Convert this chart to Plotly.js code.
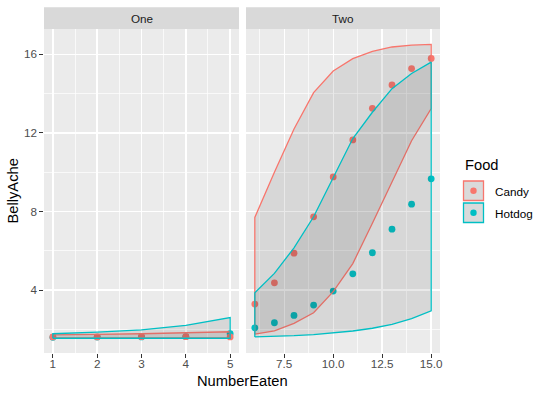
<!DOCTYPE html>
<html>
<head>
<meta charset="utf-8">
<script src="https://cdn.plot.ly/plotly-3.0.1.min.js"></script>
<style>html,body{margin:0;padding:0;background:#fff;}#chart{width:545px;height:395px;}</style>
</head>
<body>
<div id="chart"></div>
<script>
// ---- data ----
const facets = ["One", "Two"];
const foods = ["Candy", "Hotdog"];
const foodColors = ["#F8766D", "#00BFC4"];

const xOne = [1, 2, 3, 4, 5];
const candyOne = [1.62, 1.62, 1.63, 1.63, 1.62];
const hotdogOne = [1.60, 1.61, 1.62, 1.63, 1.78];
const candyOneLo = [1.57, 1.57, 1.57, 1.57, 1.57];
const candyOneHi = [1.72, 1.75, 1.78, 1.82, 1.88];
const hotdogOneLo = [1.55, 1.55, 1.55, 1.55, 1.55];
const hotdogOneHi = [1.78, 1.86, 1.98, 2.20, 2.60];

const xTwo = [6, 7, 8, 9, 10, 11, 12, 13, 14, 15];
const candyTwo = [3.29, 4.37, 5.88, 7.73, 9.76, 11.64, 13.25, 14.44, 15.27, 15.79];
const hotdogTwo = [2.08, 2.34, 2.71, 3.24, 3.95, 4.83, 5.90, 7.10, 8.37, 9.66];
const candyTwoLo = [1.76, 1.93, 2.31, 2.85, 3.92, 5.35, 7.40, 9.50, 11.60, 13.24];
const candyTwoHi = [7.70, 10.00, 12.20, 14.05, 15.15, 15.78, 16.15, 16.37, 16.46, 16.50];
const hotdogTwoLo = [1.62, 1.64, 1.68, 1.74, 1.82, 1.92, 2.06, 2.26, 2.55, 2.95];
const hotdogTwoHi = [3.86, 4.85, 6.15, 7.73, 9.76, 11.71, 13.05, 14.25, 15.02, 15.60];

const yTicks = [4, 8, 12, 16];
const xTwoTicks = [7.5, 10, 12.5, 15];

// ---- helpers ----
const W = 545, H = 395;
const px = v => v / W;
const py = v => 1 - v / H;
const FONT = "Liberation Sans, Arial, Helvetica, sans-serif";

function ribbon(x, lo, hi, color, xa) {
  const xs = x.concat(x.slice().reverse(), [x[0]]);
  const ys = lo.concat(hi.slice().reverse(), [lo[0]]);
  return {
    type: "scatter", mode: "lines", x: xs, y: ys, xaxis: xa, yaxis: xa === "x" ? "y" : "y2",
    fill: "toself", fillcolor: "rgba(51,51,51,0.11)",
    line: {color: color, width: 1.3}, showlegend: false, hoverinfo: "skip"
  };
}
function pts(x, y, color, xa) {
  return {
    type: "scatter", mode: "markers", x: x, y: y, xaxis: xa, yaxis: xa === "x" ? "y" : "y2",
    marker: {color: color, size: 6.8, line: {width: 0}}, showlegend: false
  };
}

const traces = [
  pts(xOne, hotdogOne, foodColors[1], "x"),
  pts(xOne, candyOne, foodColors[0], "x"),
  pts(xTwo, hotdogTwo, foodColors[1], "x2"),
  pts(xTwo, candyTwo, foodColors[0], "x2"),
  ribbon(xOne, candyOneLo, candyOneHi, foodColors[0], "x"),
  ribbon(xOne, hotdogOneLo, hotdogOneHi, foodColors[1], "x"),
  ribbon(xTwo, candyTwoLo, candyTwoHi, foodColors[0], "x2"),
  ribbon(xTwo, hotdogTwoLo, hotdogTwoHi, foodColors[1], "x2")
];

const panelTop = 29.3, panelBot = 353;
const p1 = [44, 239], p2 = [246, 440];
const yDom = [py(panelBot), py(panelTop)];
const tickFont = {family: FONT, size: 11.7, color: "#4D4D4D"};

const axBase = {
  showline: false, zeroline: false, showgrid: true, gridcolor: "#FFFFFF", gridwidth: 1.4,
  ticks: "outside", ticklen: 3.7, tickwidth: 1.07, tickcolor: "#333333",
  tickfont: tickFont, automargin: false, fixedrange: true
};

const layout = {
  width: W, height: H, margin: {l: 0, r: 0, t: 0, b: 0},
  paper_bgcolor: "#FFFFFF", plot_bgcolor: "#EBEBEB",
  showlegend: false, font: {family: FONT},
  xaxis: Object.assign({}, axBase, {
    domain: [px(p1[0]), px(p1[1])], range: [0.8, 5.2], anchor: "y",
    tickvals: xOne, ticktext: xOne.map(String), ticklabelstandoff: -4,
    minor: {dtick: 0.5, tick0: 0, showgrid: true, gridcolor: "#FFFFFF", gridwidth: 0.7, ticks: ""}
  }),
  xaxis2: Object.assign({}, axBase, {
    domain: [px(p2[0]), px(p2[1])], range: [5.55, 15.45], anchor: "y2",
    tickvals: xTwoTicks, ticktext: xTwoTicks.map(v => v.toFixed(1)), ticklabelstandoff: -4,
    minor: {dtick: 1.25, tick0: 0, showgrid: true, gridcolor: "#FFFFFF", gridwidth: 0.7, ticks: ""}
  }),
  yaxis: Object.assign({}, axBase, {
    domain: yDom, range: [0.80, 17.27], anchor: "x",
    tickvals: yTicks, ticktext: yTicks.map(String),
    minor: {dtick: 2, tick0: 0, showgrid: true, gridcolor: "#FFFFFF", gridwidth: 0.7, ticks: ""}
  }),
  yaxis2: Object.assign({}, axBase, {
    domain: yDom, range: [0.80, 17.27], anchor: "x2", matches: "y",
    tickvals: yTicks, showticklabels: false, ticks: "",
    minor: {dtick: 2, tick0: 0, showgrid: true, gridcolor: "#FFFFFF", gridwidth: 0.7, ticks: ""}
  }),
  shapes: [],
  annotations: []
};

// strips
[p1, p2].forEach((p, i) => {
  layout.shapes.push({type: "rect", xref: "paper", yref: "paper",
    x0: px(p[0]), x1: px(p[1]), y0: py(panelTop), y1: py(7.3),
    fillcolor: "#D9D9D9", line: {width: 0}, layer: "below"});
  layout.annotations.push({xref: "paper", yref: "paper", x: px((p[0] + p[1]) / 2), y: py(18.3),
    text: facets[i], showarrow: false, xanchor: "center", yanchor: "middle",
    font: {family: FONT, size: 11.7, color: "#1A1A1A"}});
});

// axis titles
layout.annotations.push({xref: "paper", yref: "paper", x: px(242), y: py(381), text: "NumberEaten",
  showarrow: false, xanchor: "center", yanchor: "middle", font: {family: FONT, size: 14.7, color: "#000"}});
layout.annotations.push({xref: "paper", yref: "paper", x: px(12.5), y: py(191), text: "BellyAche",
  textangle: -90, showarrow: false, xanchor: "center", yanchor: "middle", font: {family: FONT, size: 14.7, color: "#000"}});

// legend (drawn manually, ggplot style)
layout.annotations.push({xref: "paper", yref: "paper", x: px(462.5), y: py(165), text: "Food",
  showarrow: false, xanchor: "left", yanchor: "middle", font: {family: FONT, size: 14.7, color: "#000"}});
const keyY = [[181, 200.5], [203, 222.5]];
foods.forEach((f, i) => {
  const [a, b] = keyY[i];
  layout.shapes.push({type: "rect", xref: "paper", yref: "paper",
    x0: px(463.5), x1: px(483.5), y0: py(b), y1: py(a),
    fillcolor: "#DADADA", line: {color: foodColors[i], width: 1.3}});
  const cx = 473.5, cy = (a + b) / 2, r = 3.2;
  layout.shapes.push({type: "circle", xref: "paper", yref: "paper",
    x0: px(cx - r), x1: px(cx + r), y0: py(cy + r), y1: py(cy - r),
    fillcolor: foodColors[i], line: {width: 0}});
  layout.annotations.push({xref: "paper", yref: "paper", x: px(492.5), y: py(cy + 0.5), text: f,
    showarrow: false, xanchor: "left", yanchor: "middle", font: {family: FONT, size: 11.7, color: "#000"}});
});

Plotly.newPlot("chart", traces, layout, {staticPlot: true, displayModeBar: false});
</script>
</body>
</html>
